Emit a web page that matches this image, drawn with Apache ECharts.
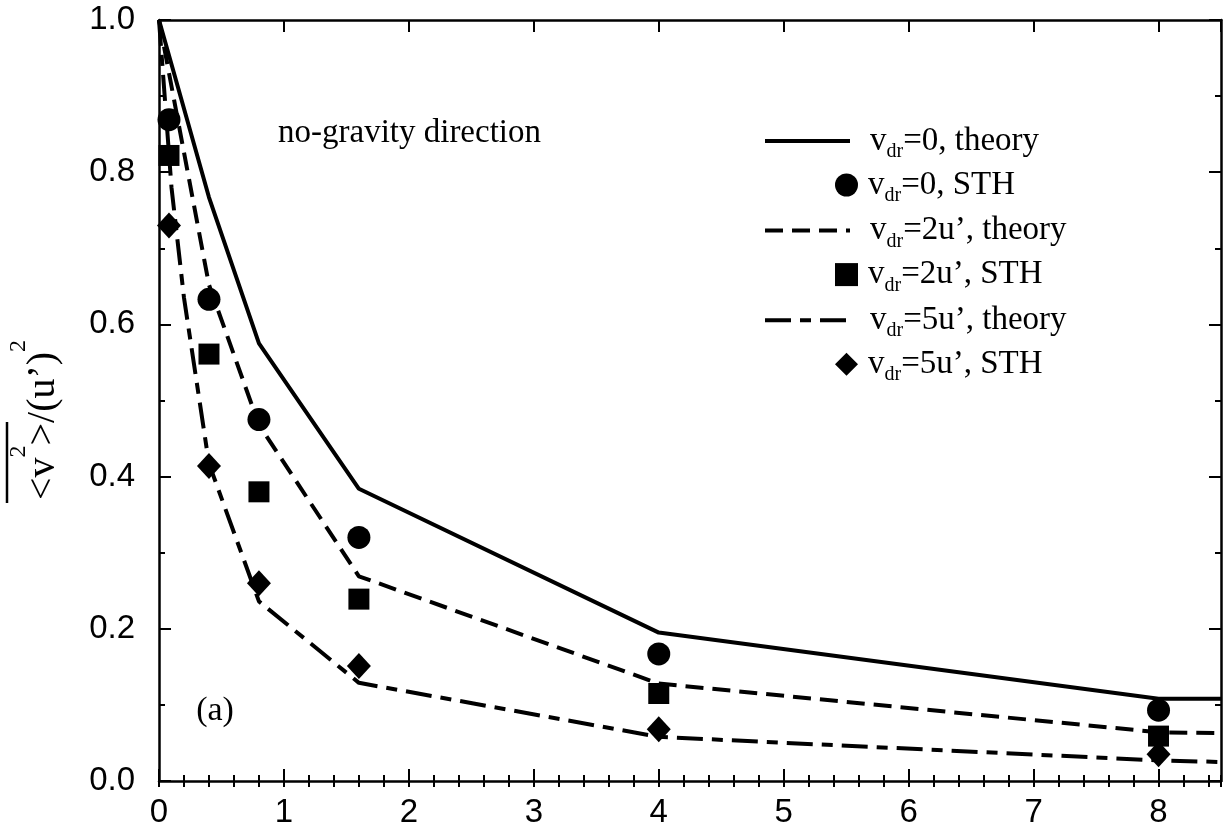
<!DOCTYPE html>
<html>
<head>
<meta charset="utf-8">
<script src="https://cdn.jsdelivr.net/npm/echarts@6/dist/echarts.min.js"></script>
<style>
html,body{margin:0;padding:0;background:#fff;}
#c{width:1225px;height:835px;}
</style>
</head>
<body>
<div id="c"></div>
<script>
// ---- data ----
const xTheory = [0, 0.4, 0.8, 1.6, 4, 8, 8.5];
const theory0 = [1.0, 0.767, 0.575, 0.384, 0.195, 0.108, 0.108];
const theory2 = [1.0, 0.652, 0.468, 0.269, 0.128, 0.064, 0.063];
const xTheory5 = [0, 0.1, 0.2, 0.4, 0.8, 1.6, 4, 8, 8.5];
const theory5 = [1.0, 0.78, 0.635, 0.417, 0.236, 0.129, 0.058, 0.027, 0.025];

const xSTH = [0.08, 0.4, 0.8, 1.6, 4, 8];
const sth0 = [0.869, 0.633, 0.475, 0.320, 0.167, 0.093];
const sth2 = [0.822, 0.561, 0.380, 0.239, 0.115, 0.059];
const sth5 = [0.730, 0.414, 0.260, 0.151, 0.068, 0.035];

const xTickLabels = ['0','1','2','3','4','5','6','7','8'];
const names = {
  t0: 'vdr=0, theory', s0: 'vdr=0, STH',
  t2: 'vdr=2u\u2019, theory', s2: 'vdr=2u\u2019, STH',
  t5: 'vdr=5u\u2019, theory', s5: 'vdr=5u\u2019, STH'
};

const pairs = (xs, ys) => ys.map((v, i) => [xs[i], v]);
const SERIF = '"Liberation Serif", "Times New Roman", serif';
const SANS = '"Liberation Sans", Arial, Helvetica, sans-serif';

function legendFmt(name) {
  return '{v|v}{d|dr}{t|' + name.slice(3) + '}';
}
function legendRich(padLeft) {
  return {
    v: {fontFamily: SERIF, fontSize: 33, color: '#000', verticalAlign: 'middle', padding: [0, 0, 0, padLeft]},
    d: {fontFamily: SERIF, fontSize: 20, lineHeight: 20, color: '#000', verticalAlign: 'middle', padding: [22, 0, 0, 0]},
    t: {fontFamily: SERIF, fontSize: 33, color: '#000', verticalAlign: 'middle'}
  };
}

const axisLineStyle = {color: '#000', width: 2.5};
const tickStyle = {color: '#000', width: 2};

const chart = echarts.init(document.getElementById('c'), null, {renderer: 'canvas'});
chart.setOption({
  animation: false,
  backgroundColor: '#fff',
  grid: {left: 159, right: 4, top: 20, bottom: 54, containLabel: false},
  xAxis: [
    {type: 'value', position: 'bottom', min: 0, max: 8.5, interval: 1,
     axisLine: {show: true, onZero: false, lineStyle: axisLineStyle},
     axisTick: {show: true, inside: true, length: 12, lineStyle: tickStyle},
     axisLabel: {show: true, margin: 15, color: '#000', fontFamily: SANS, fontSize: 33,
       showMaxLabel: false,
       formatter: v => (Number.isInteger(v) && v <= 8 ? xTickLabels[v] : '')},
     splitLine: {show: false}},
    {type: 'value', position: 'bottom', min: 0, max: 8.5, interval: 0.2,
     axisLine: {show: false}, axisLabel: {show: false}, splitLine: {show: false},
     axisTick: {show: true, inside: true, length: 6, lineStyle: tickStyle}},
    {type: 'value', position: 'top', min: 0, max: 8.5, interval: 1,
     axisLine: {show: true, onZero: false, lineStyle: axisLineStyle},
     axisLabel: {show: false}, splitLine: {show: false},
     axisTick: {show: true, inside: true, length: 12, lineStyle: tickStyle}},
    {type: 'value', position: 'top', min: 0, max: 8.5, interval: 0.2,
     axisLine: {show: false}, axisLabel: {show: false}, splitLine: {show: false},
     axisTick: {show: true, inside: true, length: 6, lineStyle: tickStyle}}
  ],
  yAxis: [
    {type: 'value', position: 'left', min: 0, max: 1, interval: 0.2,
     axisLine: {show: true, onZero: false, lineStyle: axisLineStyle},
     axisTick: {show: true, inside: true, length: 12, lineStyle: tickStyle},
     minorTick: {show: true, splitNumber: 2, length: 6, lineStyle: tickStyle},
     axisLabel: {show: true, margin: 24, color: '#000', fontFamily: SANS, fontSize: 33,
       formatter: v => v.toFixed(1)},
     splitLine: {show: false}, minorSplitLine: {show: false}},
    {type: 'value', position: 'right', min: 0, max: 1, interval: 0.2,
     axisLine: {show: true, onZero: false, lineStyle: axisLineStyle},
     axisTick: {show: true, inside: true, length: 12, lineStyle: tickStyle},
     minorTick: {show: true, splitNumber: 2, length: 6, lineStyle: tickStyle},
     axisLabel: {show: false}, splitLine: {show: false}, minorSplitLine: {show: false}}
  ],
  legend: [
    {data: [names.t0, names.t2, names.t5], orient: 'vertical', left: 763, top: 120,
     padding: 0, itemWidth: 85, itemHeight: 23, itemGap: 47.6, selectedMode: false,
     itemStyle: {opacity: 0}, lineStyle: {width: 4},
     formatter: legendFmt, textStyle: {rich: legendRich(15)}},
    {data: [names.s0, names.s2, names.s5], orient: 'vertical', left: 835, top: 164,
     padding: 0, itemWidth: 23, itemHeight: 23, itemGap: 47.6, selectedMode: false,
     formatter: legendFmt, textStyle: {rich: legendRich(5)}}
  ],
  series: [
    {name: names.t0, type: 'line', data: pairs(xTheory, theory0), symbol: 'none',
     lineStyle: {color: '#000', width: 4, type: 'solid'}, itemStyle: {color: '#000'}, z: 2},
    {name: names.t2, type: 'line', data: pairs(xTheory, theory2), symbol: 'none',
     lineStyle: {color: '#000', width: 4, type: [18, 9]}, itemStyle: {color: '#000'}, z: 2},
    {name: names.t5, type: 'line', data: pairs(xTheory5, theory5), symbol: 'none',
     lineStyle: {color: '#000', width: 4, type: [26, 9, 11, 9]}, itemStyle: {color: '#000'}, z: 2},
    {name: names.s0, type: 'scatter', data: pairs(xSTH, sth0), symbol: 'circle', symbolSize: 23,
     itemStyle: {color: '#000', opacity: 1}, z: 3},
    {name: names.s2, type: 'scatter', data: pairs(xSTH, sth2), symbol: 'rect', symbolSize: 21,
     itemStyle: {color: '#000', opacity: 1}, z: 3},
    {name: names.s5, type: 'scatter', data: pairs(xSTH, sth5), symbol: 'diamond', symbolSize: [24, 26],
     itemStyle: {color: '#000', opacity: 1}, z: 3}
  ],
  graphic: [
    {type: 'text', x: 278, y: 133, style: {text: 'no-gravity direction', fill: '#000',
      font: '33px ' + SERIF, align: 'left', verticalAlign: 'middle'}},
    {type: 'text', x: 215, y: 711, style: {text: '(a)', fill: '#000',
      font: '34px ' + SERIF, align: 'center', verticalAlign: 'middle'}},
    {type: 'group', x: 35, y: 420, rotation: Math.PI / 2, children: [
      {type: 'text', x: 0, y: 0, style: {
        text: '{n|<v}{s|2}{n|>/(u\u2019)}{s|2}', align: 'center', verticalAlign: 'middle', fill: '#000',
        rich: {
          n: {fontFamily: SERIF, fontSize: 40, lineHeight: 57, verticalAlign: 'bottom', fill: '#000'},
          s: {fontFamily: SERIF, fontSize: 24, lineHeight: 24, verticalAlign: 'top', fill: '#000'}
        }}},
      {type: 'line', shape: {x1: -83, y1: -28, x2: -2, y2: -28}, style: {stroke: '#000', lineWidth: 2.5}}
    ]}
  ]
});
</script>
</body>
</html>
